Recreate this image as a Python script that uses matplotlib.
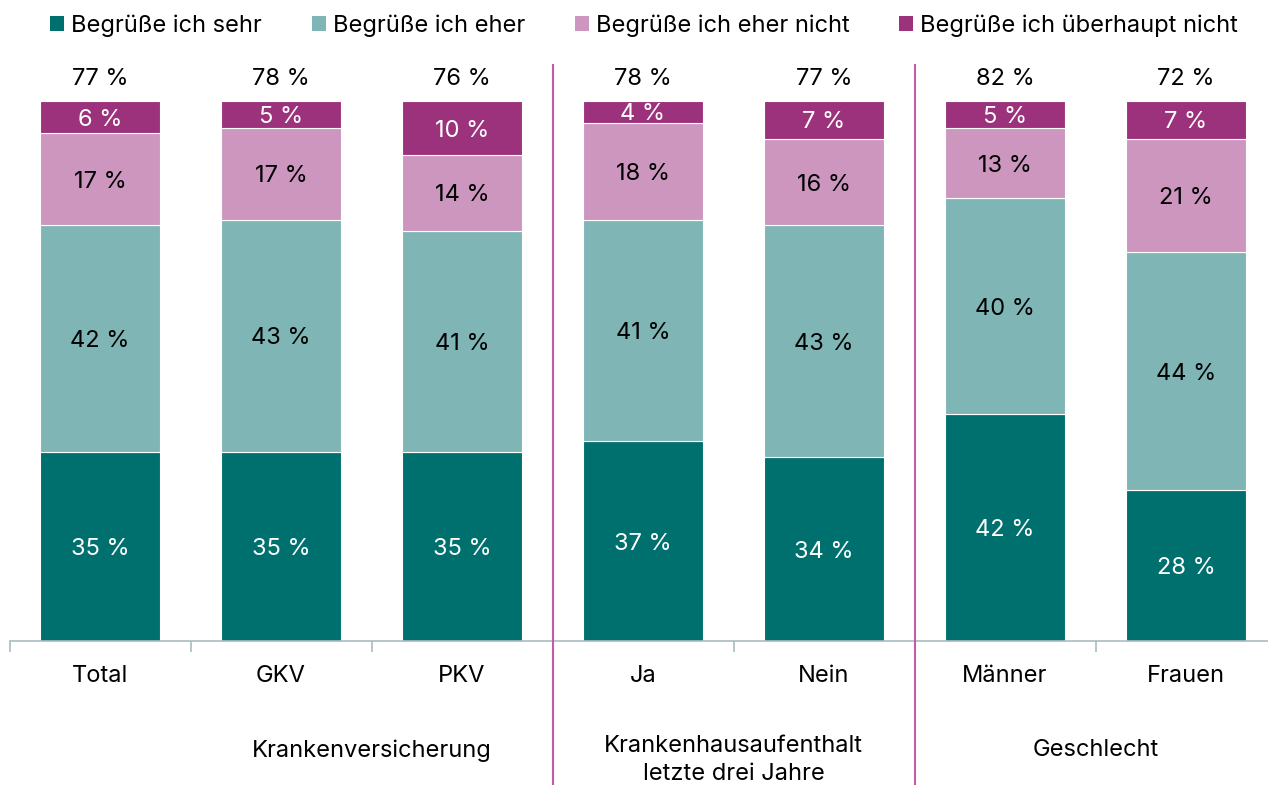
import matplotlib
matplotlib.use("Agg")
import matplotlib.pyplot as plt
from matplotlib.lines import Line2D
from matplotlib.patches import Patch
import matplotlib.transforms as mtrans
import numpy as np

plt.rcParams['font.family'] = ['Inter', 'DejaVu Sans']

categories = ["Total", "GKV", "PKV", "Ja", "Nein", "Männer", "Frauen"]
series_names = ["Begrüße ich sehr", "Begrüße ich eher", "Begrüße ich eher nicht", "Begrüße ich überhaupt nicht"]
sehr = [35, 35, 35, 37, 34, 42, 28]
eher = [42, 43, 41, 41, 43, 40, 44]
eher_nicht = [17, 17, 14, 18, 16, 13, 21]
ueberhaupt_nicht = [6, 5, 10, 4, 7, 5, 7]
totals = ["77 %", "78 %", "76 %", "78 %", "77 %", "82 %", "72 %"]
groups = ["Krankenversicherung", "Krankenhausaufenthalt\nletzte drei Jahre", "Geschlecht"]
group_centers = [1.5, 3.5, 5.5]
separators = [2.5, 4.5]

colors = ["#00706e", "#7fb5b5", "#cc96bf", "#9c327c"]
text_colors = ["white", "black", "black", "white"]

W, H = 1268, 785
fig = plt.figure(figsize=(W / 100, H / 100), dpi=100)
ax = fig.add_axes([9.5 / W, 144 / H, 1267 / W, 540 / H])

x = np.arange(len(categories))
data = [sehr, eher, eher_nicht, ueberhaupt_nicht]
bottom = np.zeros(len(categories))
fs = 17
for vals, c, tc in zip(data, colors, text_colors):
    vals = np.array(vals, dtype=float)
    ax.bar(x, vals, bottom=bottom, width=0.663, color=c, edgecolor='white', linewidth=0.8)
    for xi, b, v in zip(x, bottom, vals):
        ax.text(xi, b + v / 2, f"{int(v)} %", ha='center', va='center_baseline', color=tc, fontsize=fs)
    bottom += vals

for xi, t in zip(x, totals):
    ax.text(xi, 104.5, t, ha='center', va='center_baseline', fontsize=fs, color='black')

ax.set_xlim(-0.5, 6.5)
ax.set_ylim(0, 100)
for s in ['top', 'right', 'left']:
    ax.spines[s].set_visible(False)
ax.spines['bottom'].set_color('#a9bcc0')
ax.spines['bottom'].set_linewidth(1.2)
ax.set_yticks([])
ax.set_xticks(x)
ax.set_xticklabels(categories, fontsize=fs)
ax.tick_params(axis='x', which='major', length=0, pad=17)
ax.set_xticks(np.arange(-0.5, 7, 1), minor=True)
ax.tick_params(axis='x', which='minor', length=8, color='#a9bcc0', width=1.2)

trans_x_fig = mtrans.blended_transform_factory(ax.transData, fig.transFigure)
for s in separators:
    fig.add_artist(Line2D([s, s], [0, 1 - 65 / H], transform=trans_x_fig, color='#c75aa5', linewidth=1.5))

for label, gx in zip(groups, group_centers):
    if '\n' in label:
        ax.text(gx, 1 - 735 / H, label, transform=trans_x_fig, ha='center', va='top', fontsize=fs, linespacing=1.38)
    else:
        ax.text(gx, 1 - 748 / H, label, transform=trans_x_fig, ha='center', va='center_baseline', fontsize=fs)

handles = [Patch(facecolor=c, edgecolor='none') for c in colors]
fig.legend(handles, series_names, loc='center', bbox_to_anchor=(0.508, 1 - 26 / H), ncol=4, frameon=False,
           fontsize=fs, handlelength=0.6, handleheight=0.6, handletextpad=0.3, columnspacing=2.1,
           borderaxespad=0, borderpad=0)

fig.savefig("out.png", dpi=100)
